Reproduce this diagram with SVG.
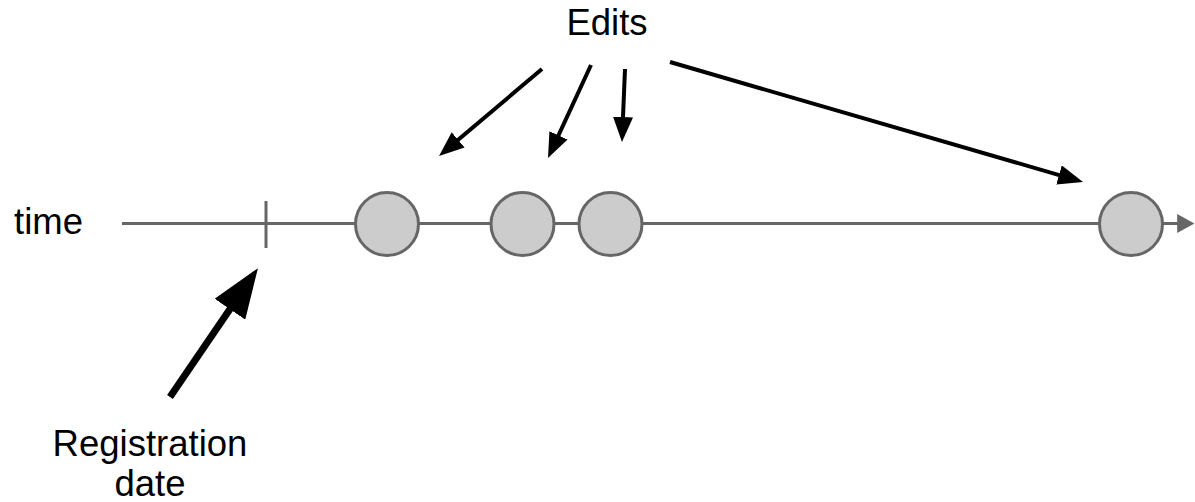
<svg xmlns="http://www.w3.org/2000/svg" width="1195" height="502" viewBox="0 0 1195 502">
<defs>
<style>
.lbl{font-family:"Liberation Sans",Arial,sans-serif;font-size:36.5px;fill:#000}
.axis{stroke:#666;stroke-width:3;fill:none}
.ev{fill:#ccc;stroke:#666;stroke-width:3}
.ptr{stroke:#000;stroke-width:4;fill:none;marker-end:url(#head)}
.ptrBig{stroke:#000;stroke-width:7;fill:none;marker-end:url(#headBig)}
</style>
<marker id="head" viewBox="0 0 10 8" preserveAspectRatio="none" refX="4" refY="4" markerUnits="strokeWidth" markerWidth="6.25" markerHeight="5" orient="auto"><path d="M0,0 L10,4 L0,8 Z" fill="#000"/></marker>
<marker id="headBig" viewBox="0 0 10 8" preserveAspectRatio="none" refX="4" refY="4" markerUnits="strokeWidth" markerWidth="7.1" markerHeight="5.3" orient="auto"><path d="M0,0 L10,4 L0,8 Z" fill="#000"/></marker>
<marker id="axisHead" viewBox="0 0 10 8" preserveAspectRatio="none" refX="4" refY="4" markerUnits="strokeWidth" markerWidth="5.7" markerHeight="6.3" orient="auto"><path d="M0,0 L10,4 L0,8 Z" fill="#666"/></marker>
</defs>
<rect width="1195" height="502" fill="#fff"/>
<g id="timeline">
<line class="axis" x1="122" y1="223.5" x2="1184" y2="223.5" style="marker-end:url(#axisHead)"/>
<line class="axis" x1="266" y1="201" x2="266" y2="248"/>
</g>
<g id="connectors">
<line class="ptr" x1="542" y1="69" x2="450.5" y2="146.3"/>
<line class="ptr" x1="591" y1="65" x2="554.3" y2="144.4"/>
<line class="ptr" x1="625" y1="69" x2="622.6" y2="127"/>
<line class="ptr" x1="670" y1="62" x2="1068.6" y2="177.8"/>
<line class="ptrBig" x1="170" y1="397" x2="241.1" y2="292.8"/>
</g>
<g id="event1"><circle class="ev" cx="387" cy="224" r="31.5"/></g>
<g id="event2"><circle class="ev" cx="522.5" cy="224" r="31.5"/></g>
<g id="event3"><circle class="ev" cx="610.5" cy="224" r="31.5"/></g>
<g id="event4"><circle class="ev" cx="1131" cy="224" r="31.5"/></g>
<g id="label-time"><text class="lbl" x="14" y="234">time</text></g>
<g id="label-edits"><text class="lbl" x="607" y="35" text-anchor="middle">Edits</text></g>
<g id="label-registration"><text class="lbl" x="150" y="456" text-anchor="middle">Registration</text><text class="lbl" x="150" y="496" text-anchor="middle">date</text></g>
</svg>
